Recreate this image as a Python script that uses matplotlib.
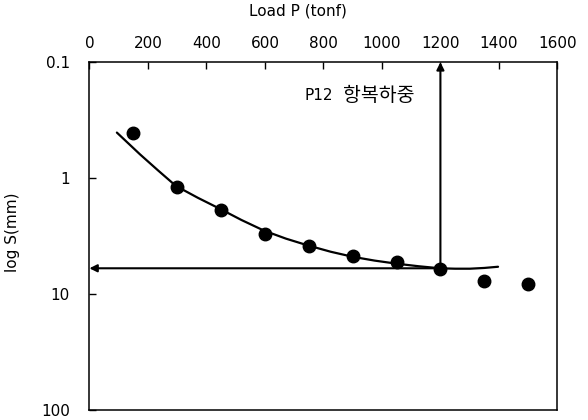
import matplotlib
matplotlib.use("Agg")
import matplotlib.pyplot as plt

plt.rcParams['font.family'] = ['DejaVu Sans', 'Noto Sans CJK KR']

# measured load-settlement points
load = [150, 300, 450, 600, 750, 900, 1050, 1200, 1350, 1500]
settle = [0.41, 1.20, 1.90, 3.05, 3.86, 4.73, 5.32, 6.08, 7.80, 8.16]

# trend curve through the points
curve_load = [94, 173, 235, 296, 371, 446, 520, 597, 672, 747, 825, 901,
              975, 1051, 1125, 1198, 1250, 1301, 1350, 1397]
curve_settle = [0.405, 0.624, 0.86, 1.17, 1.48, 1.84, 2.30, 2.84, 3.33, 3.81,
                4.32, 4.78, 5.15, 5.48, 5.76, 6.00, 6.05, 6.05, 5.96, 5.82]

# yield load
yield_load = 1200
yield_settle = 6.0

x_ticks = [0, 200, 400, 600, 800, 1000, 1200, 1400, 1600]
y_ticks = [0.1, 1, 10, 100]
y_tick_labels = ['0.1', '1', '10', '100']

fig = plt.figure(figsize=(5.88, 4.2), dpi=100)
ax = fig.add_axes([0.152, 0.024, 0.796, 0.828])

ax.set_yscale('log')
ax.set_xlim(0, 1600)
ax.set_ylim(100, 0.1)

ax.plot(curve_load, curve_settle, color='black', lw=1.6,
        solid_capstyle='round', solid_joinstyle='round')
ax.plot(load, settle, 'o', color='black', markersize=9)

# arrows marking the yield load
ax.annotate('', xy=(yield_load, 0.1), xytext=(yield_load, yield_settle),
            arrowprops=dict(arrowstyle='-|>', color='black', lw=1.5,
                            mutation_scale=11, shrinkA=0, shrinkB=0))
ax.annotate('', xy=(0, yield_settle), xytext=(yield_load, yield_settle),
            arrowprops=dict(arrowstyle='-|>', color='black', lw=1.5,
                            mutation_scale=11, shrinkA=0, shrinkB=0))

ax.text(737, 0.195, 'P12', fontsize=11, ha='left', va='center')
ax.text(867, 0.195, '항복하중', fontsize=14, ha='left', va='center')

ax.xaxis.tick_top()
ax.set_xticks(x_ticks)
ax.set_yticks(y_ticks)
ax.set_yticklabels(y_tick_labels)
ax.minorticks_off()
ax.tick_params(axis='x', direction='in', length=5, width=1, pad=8, labelsize=11,
               top=True, bottom=False)
ax.tick_params(axis='y', direction='in', length=5, width=1, pad=14, labelsize=11,
               left=True, right=False)

ax.set_xlabel('Load P (tonf)', fontsize=11)
ax.xaxis.set_label_position('top')
ax.xaxis.set_label_coords(0.446, 1.135)
ax.set_ylabel('log S(mm)', fontsize=11)
ax.yaxis.set_label_coords(-0.148, 0.51)

for s in ax.spines.values():
    s.set_linewidth(1.1)

fig.savefig('out.png', dpi=100)
